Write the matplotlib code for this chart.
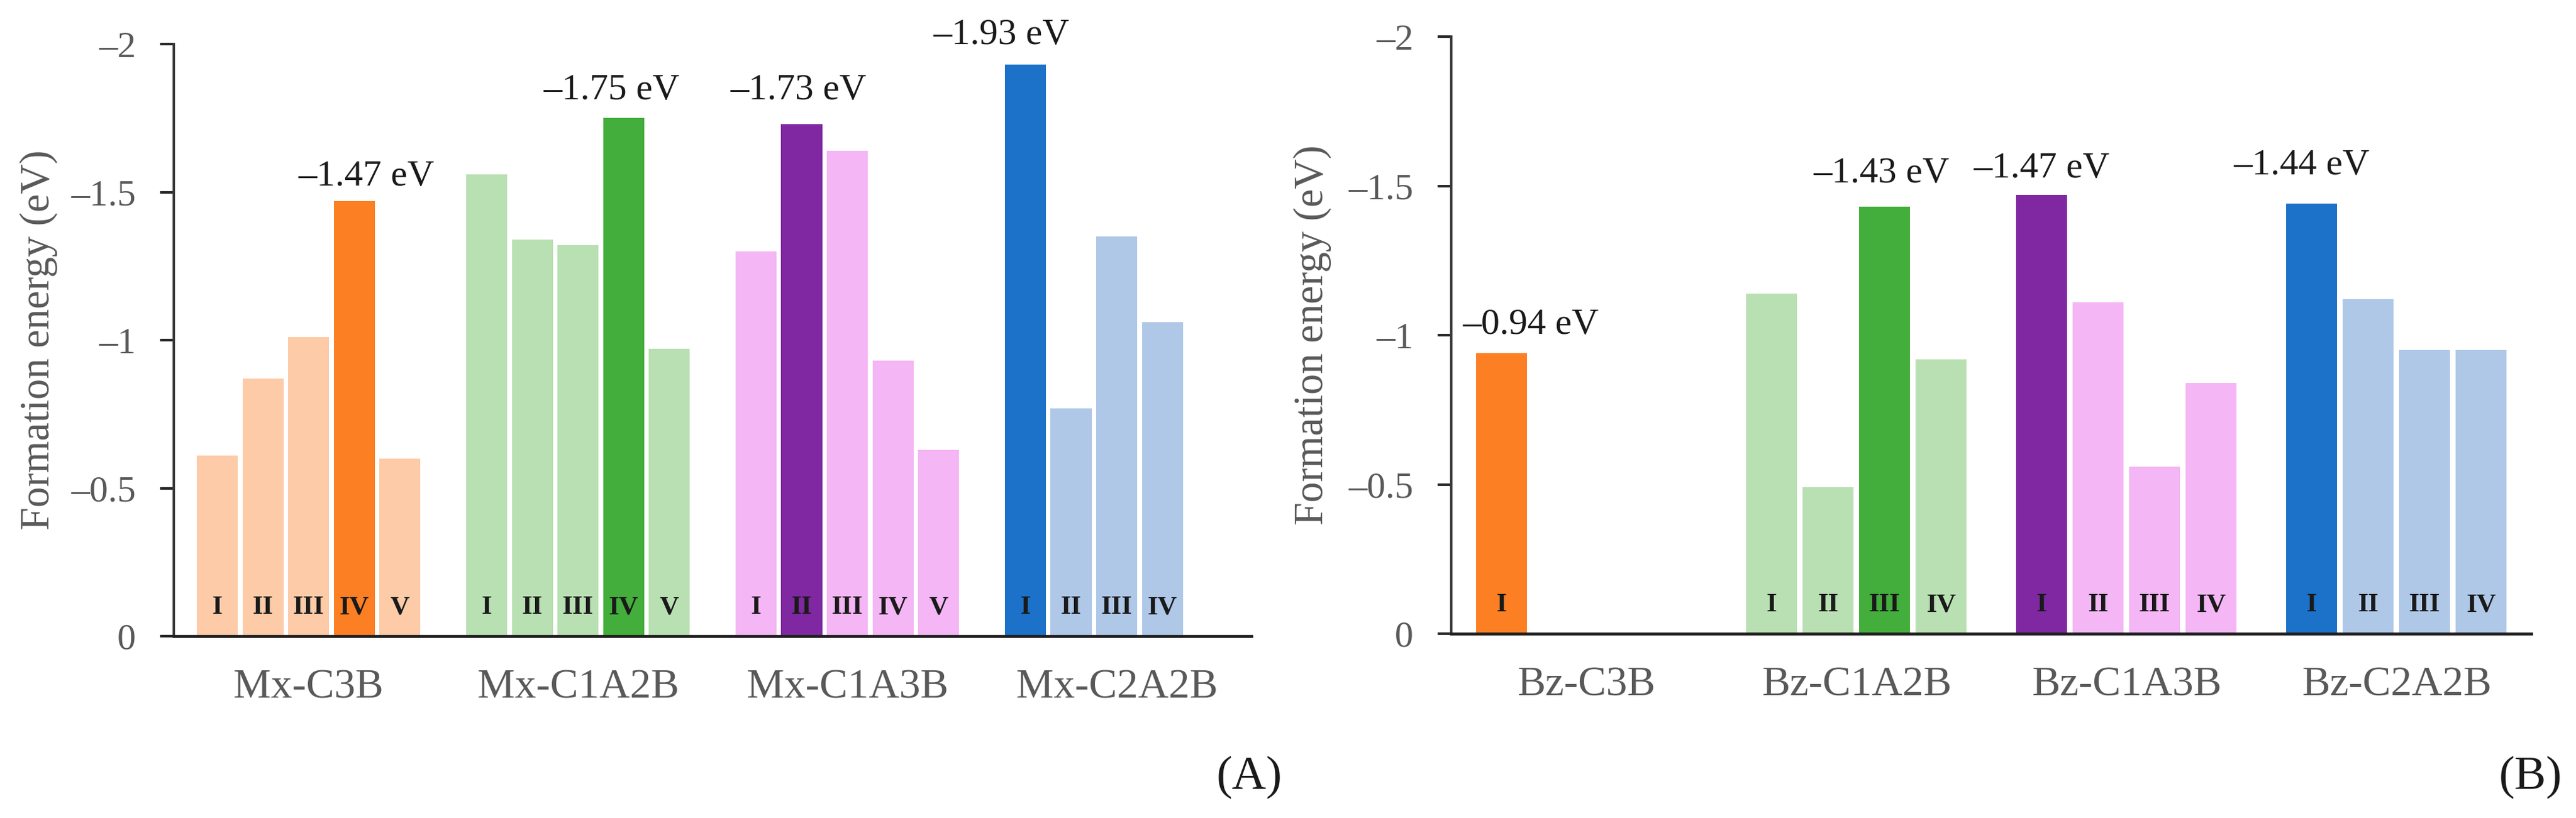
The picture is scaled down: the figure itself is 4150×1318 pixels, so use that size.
import numpy as np
import matplotlib
matplotlib.use('agg')
import matplotlib.pyplot as plt
from matplotlib.ticker import FuncFormatter

plt.rcParams['font.family'] = ['Liberation Serif', 'DejaVu Serif']

# ---- data (formation energy, eV) ----
roman = ['I', 'II', 'III', 'IV', 'V']

mx_groups = ['Mx-C3B', 'Mx-C1A2B', 'Mx-C1A3B', 'Mx-C2A2B']
mx_values = [[-0.61, -0.87, -1.01, -1.47, -0.60],
             [-1.56, -1.34, -1.32, -1.75, -0.97],
             [-1.30, -1.73, -1.64, -0.93, -0.63],
             [-1.93, -0.77, -1.35, -1.06]]
mx_best = [3, 3, 1, 0]

bz_groups = ['Bz-C3B', 'Bz-C1A2B', 'Bz-C1A3B', 'Bz-C2A2B']
bz_values = [[-0.94],
             [-1.14, -0.49, -1.43, -0.92],
             [-1.47, -1.11, -0.56, -0.84],
             [-1.44, -1.12, -0.95, -0.95]]
bz_best = [0, 2, 0, 0]

light = ['#FDCBA8', '#B9E0B2', '#F4B6F4', '#AFC8E8']
dark = ['#FD7F24', '#43AE3B', '#7F28A1', '#1B72C8']

# label nudges (points) for the "best" value annotations: (dx, gap above bar)
mx_nudge = [(14, 18), (-14, 22), (-4, 29), (-28, 24)]
bz_nudge = [(34, 22), (-4, 28), (0, 20), (-12, 34)]

GRAY = '#595959'


def en_dash(v, pos):
    s = '{:g}'.format(v)
    return s.replace('-', '\u2013')


def draw_panel(ax, groups, values, best, nslots, slot, nudges):
    for i, vals in enumerate(values):
        for j, v in enumerate(vals):
            xc = i - nslots * slot / 2 + (j + 0.5) * slot
            col = dark[i] if j == best[i] else light[i]
            ax.bar(xc, v, width=slot * 0.9, color=col, zorder=2)
            ax.annotate(roman[j], (xc, 0), xytext=(0, 33), textcoords='offset points',
                        ha='center', va='center', fontsize=31, fontweight='bold',
                        color='#1a1a1a', zorder=3)
            if j == best[i]:
                dx, dy = nudges[i]
                ax.annotate('{:.2f} eV'.format(v).replace('-', '\u2013'), (xc, v),
                            xytext=(dx, dy), textcoords='offset points',
                            ha='center', va='baseline', fontsize=43, color='#1a1a1a')

    ax.set_xlim(-0.5, len(groups) - 0.5)
    ax.set_ylim(0, -2)
    ax.set_yticks([0, -0.5, -1, -1.5, -2])
    ax.yaxis.set_major_formatter(FuncFormatter(en_dash))
    ax.set_xticks(range(len(groups)))
    ax.set_xticklabels(groups)
    ax.tick_params(axis='x', length=0, pad=38, labelsize=49, labelcolor=GRAY)
    ax.tick_params(axis='y', length=16, width=3, direction='out', pad=28,
                   labelsize=43, labelcolor=GRAY, color='#262626')
    for s in ['top', 'right']:
        ax.spines[s].set_visible(False)
    ax.spines['left'].set_color('#3a3a3a')
    ax.spines['left'].set_linewidth(2.8)
    ax.spines['bottom'].set_color('#1f1f1f')
    ax.spines['bottom'].set_linewidth(3.4)
    ax.spines['bottom'].set_zorder(4)
    ax.set_ylabel('Formation energy (eV)', fontsize=48, color=GRAY)


fig = plt.figure(figsize=(41.5, 13.18), dpi=100)
ax1 = fig.add_axes([0.0675, 0.2223, 0.4183, 0.7238])
ax2 = fig.add_axes([0.5634, 0.2253, 0.4193, 0.7299])

draw_panel(ax1, mx_groups, mx_values, mx_best, 5, 0.1694, mx_nudge)
draw_panel(ax2, bz_groups, bz_values, bz_best, 4, 0.2092, bz_nudge)

ax1.yaxis.set_label_coords(-0.108, 0.5)
ax2.yaxis.set_label_coords(-0.111, 0.5)

fig.text(2066 / 4150, 66 / 1318, '(A)', ha='right', va='center', fontsize=55, color='#1a1a1a')
fig.text(4128 / 4150, 66 / 1318, '(B)', ha='right', va='center', fontsize=55, color='#1a1a1a')

fig.savefig('out.png', dpi=100)
